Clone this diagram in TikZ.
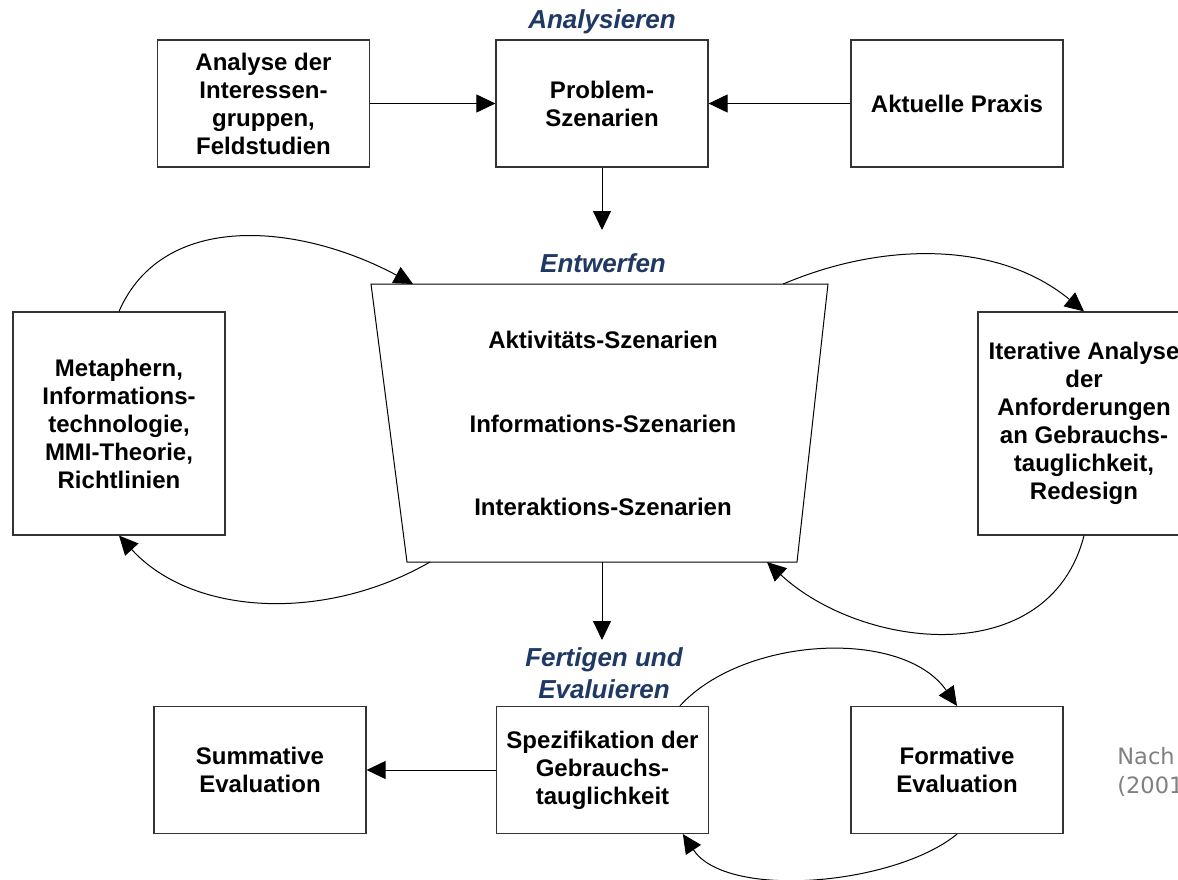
\documentclass[tikz,border=0pt]{standalone}
\usepackage{fontspec}
\setmainfont{Liberation Sans}
\newfontfamily\notefont{DejaVu Sans}
\usetikzlibrary{arrows.meta,calc}
\definecolor{phaseblue}{RGB}{31,56,100}
\definecolor{notegray}{RGB}{128,128,128}
\begin{document}
\begin{tikzpicture}[x=0.5pt,y=-0.5pt,
  box/.style={draw=black!80, line width=0.6pt, fill=white, minimum width=106pt,
    minimum height=63.5pt, align=center, inner sep=2pt,
    font=\fontsize{12pt}{14pt}\selectfont\bfseries},
  tallbox/.style={box, minimum height=111.5pt},
  phase/.style={text=phaseblue, anchor=base, inner sep=0pt,
    font=\fontsize{13pt}{15.5pt}\selectfont\bfseries\itshape},
  scen/.style={inner sep=0pt, font=\fontsize{12pt}{14pt}\selectfont\bfseries},
  link/.style={line width=0.5pt, -{Triangle[length=9.5pt,width=9pt]}},
  note/.style={text=notegray, anchor=base west, inner sep=0pt,
    font=\notefont\fontsize{11.25pt}{14.5pt}\selectfont}
]
% page frame
\fill[white] (0,0) rectangle (1178,879);
\useasboundingbox (0,0) rectangle (1178,879);
\clip (0,0) rectangle (1178,879);

% phase headings
\node[phase] (ph1) at (602,28) {Analysieren};
\node[phase] (ph2) at (603,272) {Entwerfen};
\node[phase] (ph3a) at (604,666) {Fertigen und};
\node[phase] (ph3b) at (604,698) {Evaluieren};

% analysis row
\node[box] (ana) at (263.5,103.5) {Analyse der\\Interessen-\\gruppen,\\Feldstudien};
\node[box] (prob) at (602,103.5) {Problem-\\Szenarien};
\node[box] (akt) at (957,103.5) {Aktuelle Praxis};

% design stage: trapezoid with the three scenario kinds
\coordinate (tTL) at (371,284);
\coordinate (tTR) at (828,284);
\coordinate (tBR) at (797,562);
\coordinate (tBL) at (407,562);
\draw[line width=0.5pt] (tTL) -- (tTR) -- (tBR) -- (tBL) -- cycle;
\node[scen] (s1) at (603,340) {Aktivitäts-Szenarien};
\node[scen] (s2) at (603,424) {Informations-Szenarien};
\node[scen] (s3) at (603,507) {Interaktions-Szenarien};

\node[tallbox] (met) at (119,423.5) {Metaphern,\\Informations-\\technologie,\\MMI-Theorie,\\Richtlinien};
\node[tallbox] (itr) at (1084,423.5) {Iterative Analyse\\der\\Anforderungen\\an Gebrauchs-\\tauglichkeit,\\Redesign};

% prototyping and evaluation row
\node[box] (sum) at (260,770) {Summative\\Evaluation};
\node[box] (spez) at (602.5,770) {Spezifikation der\\Gebrauchs-\\tauglichkeit};
\node[box] (form) at (957,770) {Formative\\Evaluation};

% source note
\node[note] (n1) at (1117,764) {Nach};
\node[note] (n2) at (1117,793) {(2001)};

% straight connectors
\coordinate (dn1) at (602,230);
\coordinate (dn2) at (602,640);
\draw[link] (ana.east) -- (prob.west);
\draw[link] (akt.west) -- (prob.east);
\draw[link] (prob.south) -- (dn1);
\draw[link] ($(tBL)!0.5!(tBR)$) -- (dn2);
\draw[link] (spez.west) -- (sum.east);

% iteration loops
\draw[link] (met.north) .. controls +(44,-101) and +(-114,-61) .. ($(tTL)!0.092!(tTR)$);
\draw[link] ($(tBL)!0.059!(tBR)$) .. controls +(-104,60) and +(74,81) .. (met.south);
\draw[link] ($(tTL)!0.902!(tTR)$) .. controls +(101,-43) and +(-85,-70) .. (itr.north);
\draw[link] (itr.south) .. controls +(-35,136) and +(95,88) .. ($(tBL)!0.923!(tBR)$);
\draw[link] ($(spez.north west)!0.863!(spez.north east)$) .. controls +(64,-70) and +(-54,-78) .. (form.north);
\draw[link] (form.south) .. controls +(-62,51) and +(44,66) .. ($(spez.south west)!0.877!(spez.south east)$);
\end{tikzpicture}
\end{document}
